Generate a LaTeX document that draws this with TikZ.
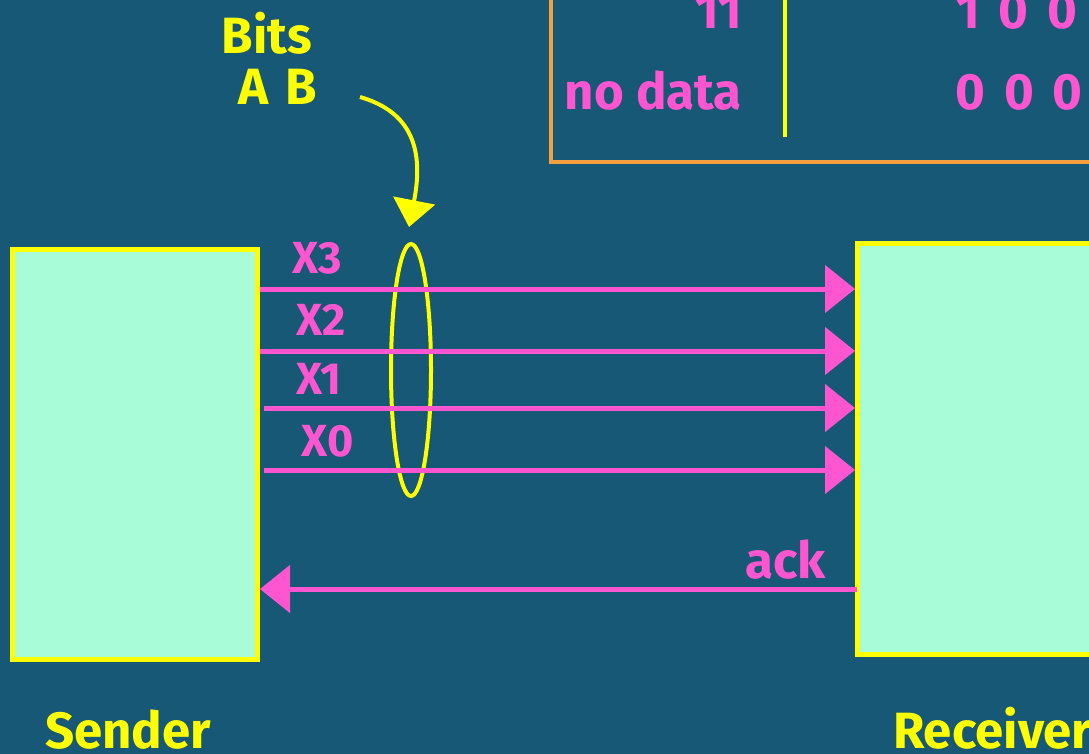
\documentclass[tikz,border=0pt]{standalone}
\usepackage{fontspec}
\setmainfont{Fira Sans}
\usetikzlibrary{arrows.meta,shapes.geometric}

\definecolor{hsbg}{RGB}{22,88,117}
\definecolor{hsmint}{RGB}{168,252,216}
\definecolor{hspink}{RGB}{255,85,208}
\definecolor{hsyellow}{RGB}{255,255,0}
\definecolor{hsorange}{RGB}{245,160,64}

\newcommand{\hsgap}{\hspace{19pt}}

\tikzset{
  hsbox/.style={draw=hsyellow, fill=hsmint, line width=5pt, inner sep=0pt},
  hswire/.style={draw=hspink, line width=5pt, -{Triangle[length=30pt, width=47pt]}},
  hsbend/.style={draw=hsyellow, line width=4pt, -{Triangle[length=27pt, width=42pt]}},
  hsbus/.style={draw=hsyellow, ellipse, line width=4pt, inner sep=0pt},
  hstext/.style={inner sep=0pt, font=\fontsize{51}{60}\selectfont\bfseries},
  hssmall/.style={inner sep=0pt, font=\fontsize{45}{54}\selectfont\bfseries, text=hspink}
}

\begin{document}
\begin{tikzpicture}[x=1pt, y=-1pt]
\useasboundingbox (0,0) rectangle (1089,754);
\clip (0,0) rectangle (1089,754);
\fill[hsbg] (0,0) rectangle (1089,754);

\draw[hsorange, line width=4pt] (551,-20) rectangle (1120,162);
\draw[hsyellow, line width=4pt] (785,-20) -- (785,137);
\node[hstext, text=hspink, anchor=base east] (pat11) at (742,29) {11};
\node[hstext, text=hspink, anchor=base east] (patnone) at (742,110) {no data};
\node[hstext, text=hspink, anchor=base west] (code11) at (956,29) {1\hsgap0\hsgap0};
\node[hstext, text=hspink, anchor=base west] (codenone) at (955,110) {0\hsgap0\hsgap0};

\node[hstext, text=hsyellow] (bits) at (267,33) {Bits};
\node[hstext, text=hsyellow, anchor=base] (ab) at (278,105) {A\,\,B};

\node[hsbox, minimum width=245, minimum height=410] (sender) at (135,454.5) {};
\node[hsbox, minimum width=300, minimum height=411] (recv) at (1007.5,448.5) {};

\node[hsbus, minimum width=40, minimum height=252] (bus) at (411,370) {};

\coordinate (bitsfrom) at (360,97);
\coordinate (bitsto) at (409,227);
\draw[hsbend] (bitsfrom) .. controls (412,112) and (424,150) .. (bitsto);

\coordinate (x3a) at (260,289);
\coordinate (x2a) at (260,351);
\coordinate (x1a) at (264,408);
\coordinate (x0a) at (264,470);
\coordinate (ackb) at (857,589);

\draw[hswire] (x3a) -- (x3a -| recv.west);
\draw[hswire] (x2a) -- (x2a -| recv.west);
\draw[hswire] (x1a) -- (x1a -| recv.west);
\draw[hswire] (x0a) -- (x0a -| recv.west);
\draw[hswire] (ackb) -- (ackb -| sender.east);

\node[hssmall, anchor=base west] (x3) at (292,273) {X3};
\node[hssmall, anchor=base west] (x2) at (296,335) {X2};
\node[hssmall, anchor=base west] (x1) at (296,394) {X1};
\node[hssmall, anchor=base west] (x0) at (301,456) {X0};
\node[hstext, text=hspink, anchor=base west] (ack) at (745,578) {ack};

\node[hstext, text=hsyellow, anchor=base west] (sendlbl) at (45,748) {Sender};
\node[hstext, text=hsyellow, anchor=base west] (recvlbl) at (893,748) {Receiver};
\end{tikzpicture}
\end{document}
